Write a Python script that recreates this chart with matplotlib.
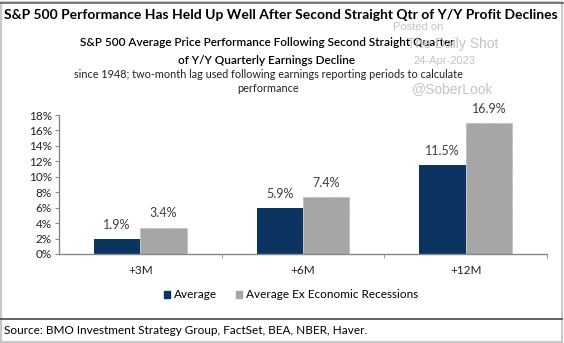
import matplotlib
matplotlib.use("Agg")
import matplotlib.pyplot as plt
import numpy as np
from matplotlib.lines import Line2D
from matplotlib.patches import Rectangle, Patch

# 데이터
categories = ["+3M", "+6M", "+12M"]
average = [1.9, 5.9, 11.5]
average_ex_recessions = [3.4, 7.4, 16.9]
series_names = ["Average", "Average Ex Economic Recessions"]
yticks = [0, 2, 4, 6, 8, 10, 12, 14, 16, 18]

NAVY = "#0b3461"
GRAY = "#a6a6a6"
FONT = "Lato"

plt.rcParams["font.family"] = [FONT, "DejaVu Sans"]

fig = plt.figure(figsize=(5.64, 3.43), dpi=100)
W, H = 564, 343


def fx(px):
    return px / W


def fy(py):
    return 1 - py / H


def fit_width(text, target_px):
    # 글자 폭을 원본 픽셀 폭에 맞춤
    renderer = fig.canvas.get_renderer()
    bb = text.get_window_extent(renderer)
    text.set_fontsize(text.get_fontsize() * target_px / bb.width)


# 바깥 테두리와 구분선
fig.add_artist(Rectangle((0.002, 0.003), 0.994, 0.99, transform=fig.transFigure,
                         fill=False, edgecolor="#c8c8c8", lw=1.5))
fig.add_artist(Line2D([0, 1], [fy(3), fy(3)], transform=fig.transFigure, color="#666666", lw=1.2))
fig.add_artist(Line2D([0, 0.997], [fy(319), fy(319)], transform=fig.transFigure, color="#555555", lw=1.3))

title = fig.text(fx(4), fy(15), "S&P 500 Performance Has Held Up Well After Second Straight Qtr of Y/Y Profit Declines",
                 fontweight="bold", fontsize=10, ha="left", va="center")
sub1 = fig.text(fx(267), fy(43), "S&P 500 Average Price Performance Following Second Straight Quarter",
                fontsize=10, ha="center", va="center", fontweight="semibold")
sub2 = fig.text(fx(267), fy(60), "of Y/Y Quarterly Earnings Decline",
                fontsize=10, ha="center", va="center", fontweight="semibold")
note1 = fig.text(fx(268), fy(74), "since 1948; two-month lag used following earnings reporting periods to calculate",
                 fontsize=9, ha="center", va="center", color="#222222")
note2 = fig.text(fx(268), fy(89), "performance", fontsize=9, ha="center", va="center", color="#222222")
source = fig.text(fx(4), fy(331), "Source: BMO Investment Strategy Group, FactSet, BEA, NBER, Haver.",
                  fontsize=9, ha="left", va="center")

fit_width(title, 556)
fit_width(sub1, 372)
sub2.set_fontsize(sub1.get_fontsize())
fit_width(note1, 390)
note2.set_fontsize(note1.get_fontsize())
fit_width(source, 361)

# 워터마크
wm = dict(color="#c4c4c4", family="Liberation Sans", ha="center", va="center")
fig.text(fx(418), fy(27), "Posted on", fontsize=8, **wm)
fig.text(fx(453), fy(44), "The Daily Shot", fontsize=10, **wm)
fig.text(fx(445), fy(61), "24-Apr-2023", fontsize=8, **wm)
fig.text(fx(453), fy(89), "@SoberLook", fontsize=10, **wm)

ax = fig.add_axes([fx(59), fy(254), fx(547) - fx(59), fy(115) - fy(254)])
x = np.arange(len(categories))
w = 0.285
ax.bar(x - w / 2, average, w, color=NAVY, label=series_names[0])
ax.bar(x + w / 2, average_ex_recessions, w, color=GRAY, edgecolor="#999999", lw=0.5,
       linestyle=":", label=series_names[1])

for xi, v in zip(x - w / 2, average):
    ax.annotate(f"{v:.1f}%", (xi, v), xytext=(0, 6), textcoords="offset points",
                ha="center", va="bottom", fontsize=9, color="#404040")
for xi, v in zip(x + w / 2, average_ex_recessions):
    ax.annotate(f"{v:.1f}%", (xi, v), xytext=(0, 6), textcoords="offset points",
                ha="center", va="bottom", fontsize=9, color="#404040")

ax.set_xlim(-0.5, 2.5)
ax.set_ylim(0, 18)
ax.set_yticks(yticks)
ax.set_yticklabels([f"{t}%" for t in yticks], fontsize=8.5, color="#222222")
ax.set_xticks(x)
ax.set_xticklabels(categories, fontsize=8.5, color="#222222")
ax.tick_params(axis="x", length=0, pad=8)
ax.set_xticks([0.5, 1.5, 2.5], minor=True)
ax.tick_params(axis="x", which="minor", length=3, color="#888888", direction="out")
ax.tick_params(axis="y", length=3, color="#888888", pad=2)
for s in ["top", "right"]:
    ax.spines[s].set_visible(False)
for s in ["left", "bottom"]:
    ax.spines[s].set_color("#888888")
    ax.spines[s].set_linewidth(1)

handles = [Patch(color=NAVY), Patch(color=GRAY)]
fig.legend(handles, series_names, loc="center", bbox_to_anchor=(fx(291), fy(295)), ncol=2,
           frameon=False, prop={"size": 8.5}, handlelength=0.5, handleheight=0.5,
           handletextpad=0.35, columnspacing=1.6)

fig.savefig("out.png", dpi=100)
